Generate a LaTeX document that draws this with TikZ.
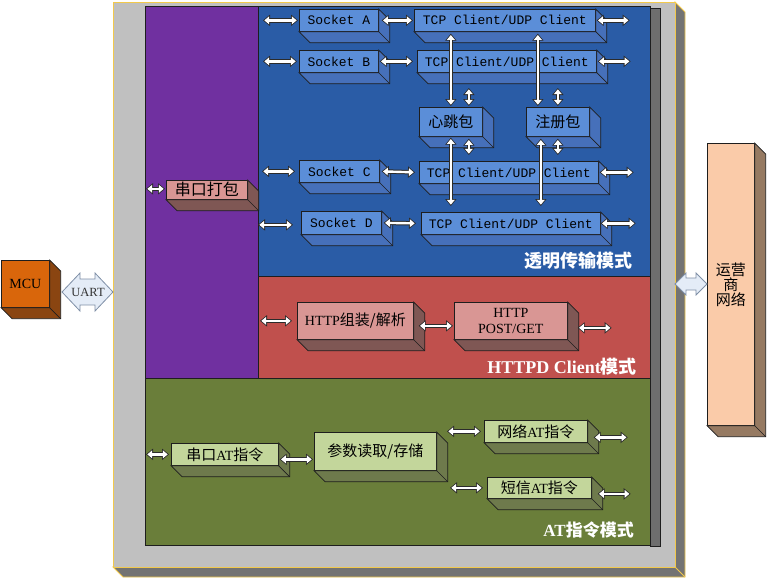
\documentclass[tikz,border=0pt]{standalone}
\usepackage{fontspec}
\setmainfont{Liberation Serif}
\newfontfamily\cjk{Noto Sans CJK SC}
\newfontfamily\monofnt{Liberation Mono}
\usetikzlibrary{arrows.meta,calc}
\definecolor{outergrey}{HTML}{C0C0C0}
\definecolor{outershadow}{HTML}{737373}
\definecolor{goldline}{HTML}{F2C94C}
\definecolor{innershadow}{HTML}{6E6E6E}
\definecolor{purplep}{HTML}{7030A0}
\definecolor{bluep}{HTML}{2A5CA6}
\definecolor{redp}{HTML}{C0504D}
\definecolor{greenp}{HTML}{6A7E3A}
\definecolor{bluefront}{HTML}{5B8ED8}
\definecolor{blueside}{HTML}{4670BA}
\definecolor{redfront}{HTML}{D99694}
\definecolor{redside}{HTML}{7F5754}
\definecolor{greenfront}{HTML}{C3D69B}
\definecolor{greenside}{HTML}{6E7A4C}
\definecolor{mcufront}{HTML}{D9660B}
\definecolor{mcuside}{HTML}{8A4511}
\definecolor{opfront}{HTML}{FACBA9}
\definecolor{opside}{HTML}{967A62}
\definecolor{edgec}{HTML}{1E1E1E}
\definecolor{arrowedge}{HTML}{2B2B2B}
\definecolor{uartfill}{HTML}{E4ECF7}
\definecolor{uartedge}{HTML}{7F8FA6}
\newcommand\FMono{\monofnt\fontsize{13}{15}\selectfont}
\newcommand\FZh{\cjk\fontsize{15}{18}\selectfont}
\newcommand\FRm{\fontsize{14}{16}\selectfont}
\newcommand\tdbox[8]{%
  \node[tdb, fill=#6, minimum width={#4-#2}, minimum height={#5-#3}, anchor=north west] (#1) at (#2,#3) {#8};
  \filldraw[fill=#7, draw=edgec, line width=0.7pt] (#1.north east) -- ++(11,11) -- ($(#1.south east)+(11,11)$) -- ($(#1.south west)+(11,11)$) -- (#1.south west) -- (#1.south east) -- cycle;
  \draw[edgec, line width=0.7pt] (#1.south east) -- ++(11,11);
}
\tikzset{
  tdb/.style={draw=edgec, line width=0.7pt, inner sep=0pt, align=center, text=black},
  panel/.style={draw=edgec, line width=0.8pt},
  modelabel/.style={text=white, anchor=east, inner sep=0pt, font=\bfseries\fontsize{18}{20}\selectfont},
  blk/.style={line width=4.4pt, draw=arrowedge,
    {Triangle[width=11pt,length=7pt]}-{Triangle[width=11pt,length=7pt]},
    postaction={draw=white, line width=2.4pt, shorten <=1.3pt, shorten >=1.3pt,
      {Triangle[width=7.6pt,length=4.8pt]}-{Triangle[width=7.6pt,length=4.8pt]}}},
}
\begin{document}
\begin{tikzpicture}[x=1pt,y=-1pt]
\useasboundingbox (0,0) rectangle (767,579);
% outer 3D grey box
\filldraw[fill=outershadow, draw=goldline, line width=0.8pt] (675,2) -- (685,12) -- (685,577) -- (123,577) -- (113,567) -- (675,567) -- cycle;
\filldraw[fill=outergrey, draw=goldline, line width=0.8pt] (113,2) rectangle (675,567);
\draw[goldline, line width=0.8pt] (675,567) -- (685,577);
% inner shadow
\filldraw[fill=innershadow, draw=edgec, line width=0.6pt] (650,8) rectangle (660,546);
% panels
\filldraw[panel, fill=purplep] (145,6) rectangle (258,378);
\filldraw[panel, fill=bluep] (258,6) rectangle (650,276);
\filldraw[panel, fill=redp] (258,276) rectangle (650,378);
\filldraw[panel, fill=greenp] (145,378) rectangle (650,545);
% mode labels
\node[modelabel] (lbl1) at (633,261) {\cjk 透明传输模式};
\node[modelabel] (lbl2) at (637,367) {HTTPD Client{\cjk 模式}};
\node[modelabel, font=\bfseries\fontsize{17}{20}\selectfont] (lbl3) at (634,530) {AT{\cjk 指令模式}};
% blue boxes
\tdbox{sa}{299}{9}{378}{31}{bluefront}{blueside}{\FMono Socket A}
\tdbox{ta}{414}{9}{595}{31}{bluefront}{blueside}{\FMono TCP Client/UDP Client}
\tdbox{sb}{299}{50}{378}{72}{bluefront}{blueside}{\FMono Socket B}
\tdbox{tb}{417}{50}{596}{72}{bluefront}{blueside}{\FMono TCP Client/UDP Client}
\tdbox{hb}{419}{107}{482}{136}{bluefront}{blueside}{\FZh 心跳包}
\tdbox{zc}{526}{107}{589}{136}{bluefront}{blueside}{\FZh 注册包}
\tdbox{sc}{299}{160}{379}{182}{bluefront}{blueside}{\FMono Socket C}
\tdbox{tc}{419}{161}{598}{183}{bluefront}{blueside}{\FMono TCP Client/UDP Client}
\tdbox{sd}{301}{211}{381}{234}{bluefront}{blueside}{\FMono Socket D}
\tdbox{td}{421}{212}{600}{234}{bluefront}{blueside}{\FMono TCP Client/UDP Client}
% purple box
\tdbox{cb}{166}{180}{247}{199}{redfront}{redside}{\cjk\fontsize{16}{18}\selectfont 串口打包}
% red boxes
\tdbox{hp}{297}{302}{413}{339}{redfront}{redside}{{\FRm HTTP}{\FZh 组装/解析}}
\tdbox{pg}{454}{302}{567}{339}{redfront}{redside}{\FRm HTTP\\[4pt]\FRm POST/GET}
% green boxes
\tdbox{ca}{171}{443}{278}{465}{greenfront}{greenside}{{\FZh 串口}{\FRm AT}{\FZh 指令}}
\tdbox{cs}{314}{432}{436}{470}{greenfront}{greenside}{\FZh 参数读取/存储}
\tdbox{wa}{484}{420}{587}{442}{greenfront}{greenside}{{\FZh 网络}{\FRm AT}{\FZh 指令}}
\tdbox{sm}{487}{477}{591}{498}{greenfront}{greenside}{{\FZh 短信}{\FRm AT}{\FZh 指令}}
% MCU and operator network
\tdbox{mcu}{1}{260}{49}{307}{mcufront}{mcuside}{\fontsize{14}{16}\selectfont MCU}
\tdbox{op}{707}{143}{754}{425}{opfront}{opside}{\cjk\fontsize{15}{20}\selectfont 运营\\\cjk\fontsize{15}{20}\selectfont 商\\\cjk\fontsize{15}{20}\selectfont 网络}
% UART arrow
\filldraw[fill=uartfill, draw=uartedge, line width=0.8pt] (62,292) -- (80,273) -- (80,279) -- (95,279) -- (95,273) -- (113,292) -- (95,311) -- (95,305) -- (80,305) -- (80,311) -- cycle;
\node[inner sep=0pt, text=black!80] (uart) at (88,292) {\fontsize{12.5}{14}\selectfont UART};
% operator arrow
\filldraw[fill=uartfill, draw=uartedge, line width=0.8pt] (675,284) -- (686,273) -- (686,278) -- (696,278) -- (696,273) -- (707,284) -- (696,295) -- (696,290) -- (686,290) -- (686,295) -- cycle;
% blue arrows
\draw[blk] ($(sa.west)+(-36,0)$) -- ($(sa.west)+(-1,0)$);
\draw[blk] ($(sa.east)+(3,0)$) -- ($(ta.west)+(-1,0)$);
\draw[blk] ($(ta.east)+(1,0)$) -- ($(ta.east)+(34,0)$);
\draw[blk] ($(sb.west)+(-36,0)$) -- ($(sb.west)+(-2,0)$);
\draw[blk] ($(sb.east)+(1,0)$) -- ($(tb.west)+(-4,0)$);
\draw[blk] ($(tb.east)+(1,0)$) -- ($(tb.east)+(34,0)$);
\draw[blk] ($(sc.west)+(-37,0)$) -- ($(sc.west)+(-4,0)$);
\draw[blk] ($(sc.east)+(2,0)$) -- ($(tc.west)+(-4,0)$);
\draw[blk] ($(tc.east)+(1,0)$) -- ($(tc.east)+(35,0)$);
\draw[blk] ($(sd.west)+(-43,2)$) -- ($(sd.west)+(-8,2)$);
\draw[blk] ($(sd.east)+(2,0)$) -- ($(td.west)+(-5,0)$);
\draw[blk] ($(td.east)+(0,0)$) -- ($(td.east)+(35,0)$);
% vertical arrows
\draw[blk] ($(hb.north |- ta.south)+(0,2)$) -- ($(hb.north)+(0,-1)$);
\draw[blk] ($(zc.north |- ta.south)+(-20,2)$) -- ($(zc.north)+(-20,-1)$);
\draw[blk] ($(hb.north)+(18,-19)$) -- ($(hb.north)+(18,-1)$);
\draw[blk] ($(zc.north)+(0,-19)$) -- ($(zc.north)+(0,-1)$);
\draw[blk] ($(hb.south)+(0,1)$) -- ($(hb.south |- td.north)+(0,-6)$);
\draw[blk] ($(hb.south)+(18,2)$) -- ($(hb.south |- tc.north)+(18,-6)$);
\draw[blk] ($(zc.south)+(-17,2)$) -- ($(zc.south |- td.north)+(-17,-6)$);
\draw[blk] ($(zc.south)+(0,2)$) -- ($(zc.south |- tc.north)+(0,-6)$);
% purple arrow
\draw[blk] ($(cb.west)+(-20,-1)$) -- ($(cb.west)+(-1,-1)$);
% red arrows
\draw[blk] ($(hp.west)+(-37,0)$) -- ($(hp.west)+(-5,0)$);
\draw[blk] ($(hp.east)+(5,5)$) -- ($(hp.east -| pg.west)+(-1,5)$);
\draw[blk] ($(pg.east)+(10,7)$) -- ($(pg.east)+(44,7)$);
% green arrows
\draw[blk] ($(ca.west)+(-25,0)$) -- ($(ca.west)+(-2,0)$);
\draw[blk] ($(ca.east)+(1,5)$) -- ($(ca.east -| cs.west)+(-1,5)$);
\draw[blk] ($(wa.west)+(-37,0)$) -- ($(wa.west)+(-3,0)$);
\draw[blk] ($(sm.west)+(-37,0)$) -- ($(sm.west)+(-4,0)$);
\draw[blk] ($(wa.east)+(6,6)$) -- ($(wa.east)+(40,6)$);
\draw[blk] ($(sm.east)+(6,6)$) -- ($(sm.east)+(39,6)$);
\end{tikzpicture}
\end{document}
